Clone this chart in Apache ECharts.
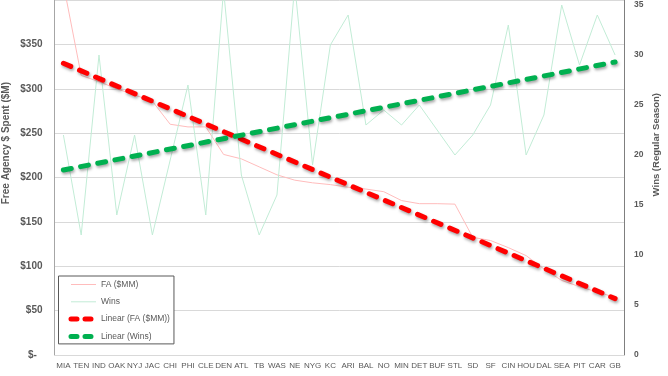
<!DOCTYPE html>
<html>
<head>
<meta charset="utf-8">
<script src="https://cdn.jsdelivr.net/npm/echarts@6/dist/echarts.min.js"></script>
<style>html,body{margin:0;padding:0;background:#fff}#c{width:668px;height:376px}</style>
</head>
<body>
<div id="c"></div>
<script>
var teams = ['MIA','TEN','IND','OAK','NYJ','JAC','CHI','PHI','CLE','DEN','ATL','TB','WAS','NE','NYG','KC','ARI','BAL','NO','MIN','DET','BUF','STL','SD','SF','CIN','HOU','DAL','SEA','PIT','CAR','GB'];
var faSpent = [418,315,308,300,293,286,260,257,257,226,221,212,203,197,194,192,189,187,184,174,170.5,170.5,170,132.6,129,121,112,97,84,77,71,65];
var wins = [22,12,30,14,22,12,19.5,27,14,36.5,18,12,16,37,19,31,34,23,24.5,23,25,22.5,20,22,25,33,20,24,35,29,34,30];
var faTrendEnds = [328.7, 63.5];
var winsTrendEnds = [18.5, 29.3];
var leftTicks = [0,50,100,150,200,250,300,350,400];
var rightTicks = [0,5,10,15,20,25,30,35];

var chart = echarts.init(document.getElementById('c'), null, {renderer:'canvas'});
var gray = '#595959';
var dashShadow = {shadowColor:'rgba(0,0,0,0.35)', shadowBlur:3, shadowOffsetX:1, shadowOffsetY:2};
chart.setOption({
  animation:false,
  backgroundColor:'#fff',
  grid:{left:54.5, right:44, top:-5, bottom:21, containLabel:false},
  xAxis:{
    type:'category', data:teams, boundaryGap:true,
    axisLine:{show:true, lineStyle:{color:'#d9d9d9'}},
    axisTick:{show:false},
    axisLabel:{interval:0, fontSize:8, color:gray, margin:7, fontFamily:'Liberation Sans'}
  },
  yAxis:[{
    type:'value', min:leftTicks[0], max:leftTicks[leftTicks.length-1], interval:50,
    axisLine:{show:true, lineStyle:{color:'#a6a6a6'}},
    axisTick:{show:false},
    splitLine:{show:true, lineStyle:{color:'#d9d9d9'}},
    axisLabel:{showMaxLabel:false, fontSize:10, fontWeight:'bold', color:gray, margin:12, fontFamily:'Liberation Sans',
      formatter:function(v){return v===0?'$-  ':'$'+v;}}
  },{
    type:'value', min:rightTicks[0], max:35.5, interval:5,
    axisLine:{show:true, lineStyle:{color:'#7f7f7f'}},
    axisTick:{show:false},
    splitLine:{show:false},
    axisLabel:{showMaxLabel:false, fontSize:8.5, fontWeight:'bold', color:gray, margin:10, fontFamily:'Liberation Sans'}
  }],
  legend:{
    orient:'vertical', left:58.5, top:276,
    backgroundColor:'#fff', borderColor:gray, borderWidth:1,
    padding:[4,4,3,10], itemWidth:25, itemHeight:10, itemGap:8.3,
    itemStyle:{opacity:0},
    textStyle:{fontSize:8.5, color:gray, fontFamily:'Liberation Sans'},
    data:[
      {name:'FA ($MM)', lineStyle:{width:1}},
      {name:'Wins', lineStyle:{width:1}},
      {name:'Linear (FA ($MM))', lineStyle:{width:5, type:[6,8], cap:'round'}},
      {name:'Linear (Wins)', lineStyle:{width:5, type:[6,8], cap:'round'}}
    ]
  },
  graphic:[
    {type:'text', left:1, top:82, rotation:Math.PI/2, style:{text:'Free Agency $ Spent ($M)', fontSize:10, fontWeight:'bold', fill:gray, fontFamily:'Liberation Sans'}},
    {type:'text', left:651, top:93, rotation:Math.PI/2, style:{text:'Wins (Regular Season)', fontSize:9.5, fontWeight:'bold', fill:gray, fontFamily:'Liberation Sans'}}
  ],
  series:[
    {name:'FA ($MM)', type:'line', yAxisIndex:0, data:faSpent, symbol:'none', z:2,
      lineStyle:{color:'#ffbcbc', width:1}, itemStyle:{color:'#ffbcbc'}},
    {name:'Wins', type:'line', yAxisIndex:1, data:wins, symbol:'none', z:2,
      lineStyle:{color:'#c2ecd6', width:1}, itemStyle:{color:'#c2ecd6'}},
    {name:'Linear (FA ($MM))', type:'line', yAxisIndex:0, symbol:'none', z:5,
      data:[[teams[0], faTrendEnds[0]],[teams[teams.length-1], faTrendEnds[1]]],
      lineStyle:Object.assign({color:'#ff0000', width:5, type:[8,9.5], cap:'round'}, dashShadow), itemStyle:{color:'#ff0000'}},
    {name:'Linear (Wins)', type:'line', yAxisIndex:1, symbol:'none', z:5,
      data:[[teams[0], winsTrendEnds[0]],[teams[teams.length-1], winsTrendEnds[1]]],
      lineStyle:Object.assign({color:'#00b050', width:5, type:[8,9.5], cap:'round'}, dashShadow), itemStyle:{color:'#00b050'}}
  ]
});
</script>
</body>
</html>
